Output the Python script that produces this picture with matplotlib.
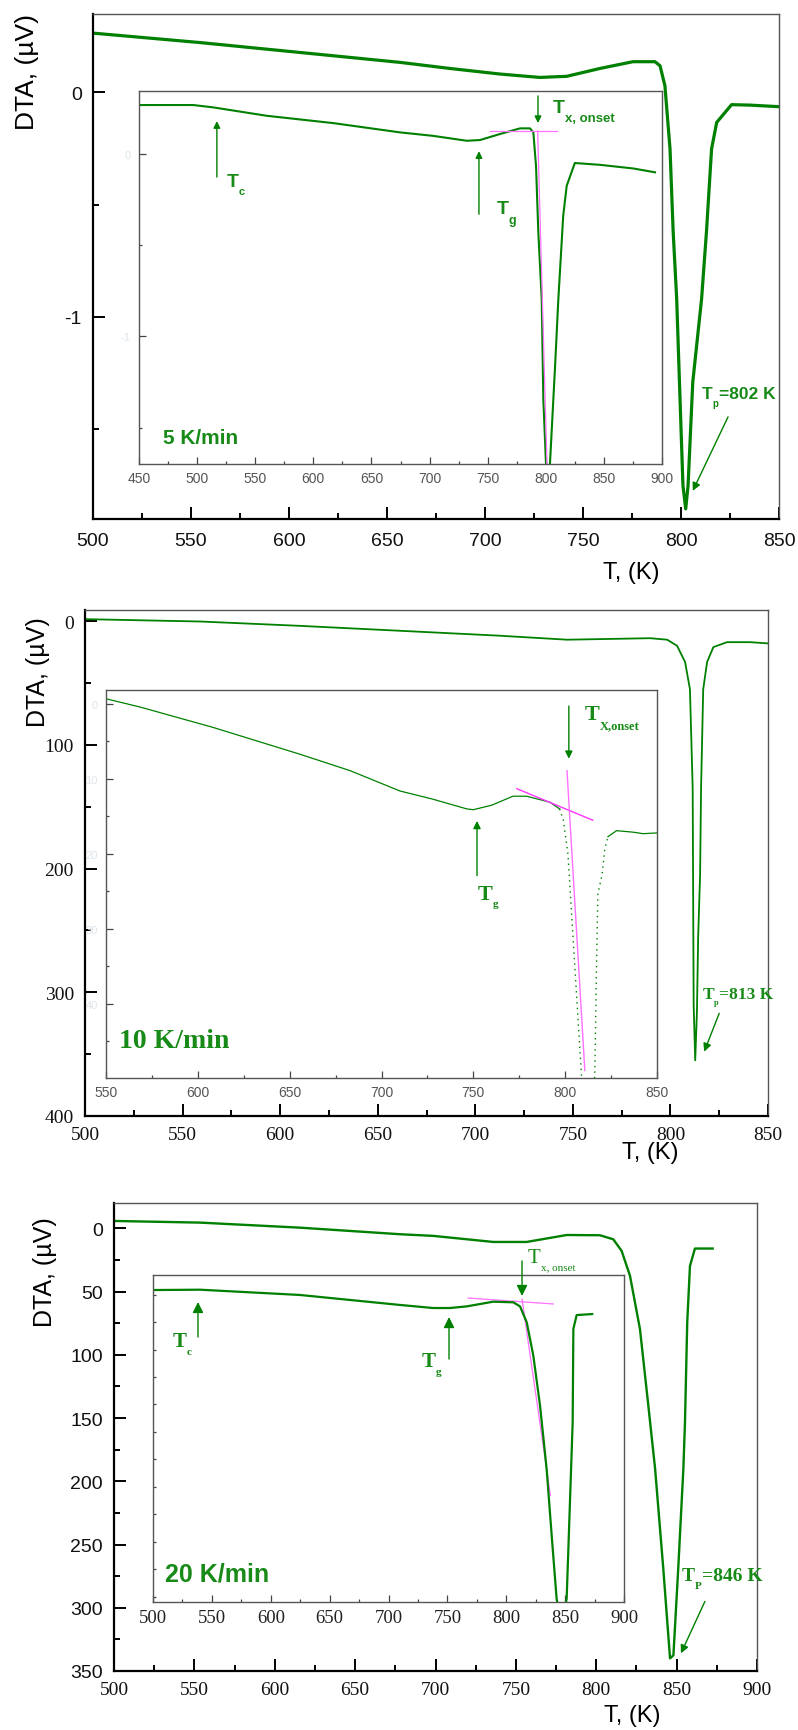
import numpy as np
import matplotlib.pyplot as plt
from matplotlib.ticker import MultipleLocator

plt.rcParams['axes.unicode_minus'] = False

W, H = 798, 1731
GREEN = '#008000'
TXT = '#178a17'
PINK = '#ff70ff'
SANS = 'Liberation Sans'
SERIF = 'Liberation Serif'

# ---- 5 K/min ----
t1 = [500, 554.6, 605.6, 656.6, 682, 707.7, 728, 741.7, 758.7, 775.5, 786.7, 789.3, 791.8, 794.4,
      796, 797.8, 799.5, 801, 802.4, 803.6, 806, 810.5, 813, 815.6, 818.2, 825.8, 835, 850]
d1 = [0.262, 0.22, 0.176, 0.132, 0.105, 0.08, 0.065, 0.07, 0.105, 0.135, 0.135, 0.117, 0.028, -0.253,
      -0.62, -0.92, -1.364, -1.75, -1.853, -1.75, -1.29, -0.92, -0.62, -0.253, -0.135, -0.056, -0.058, -0.065]
ti1 = [448.5, 496.7, 514, 560, 617, 674.6, 703, 732, 743.4, 760.6, 777.8, 786.4, 789.3, 791.6, 793.6,
       796.5, 797.9, 800.2, 801.8, 803.6, 808, 810.8, 815, 818, 825, 846.7, 875.3, 894]
di1 = [0.269, 0.269, 0.256, 0.21, 0.17, 0.119, 0.1, 0.073, 0.077, 0.11, 0.141, 0.141, 0.119, -0.064, -0.43,
       -0.797, -1.346, -1.70, -1.85, -1.70, -1.163, -0.797, -0.339, -0.174, -0.049, -0.059, -0.079, -0.1]
tan1_base = ([752, 810], [0.126, 0.126])
tan1_steep = ([793, 801], [0.126, -1.70])

# ---- 10 K/min ----
t2 = [500, 559, 610, 661.5, 712.7, 747, 789.6, 798.3, 803.4, 807.5, 810, 811.4, 811.9, 812.7,
      813.6, 814.2, 815.2, 815.7, 816.8, 818.8, 822, 829, 840.8, 850]
d2 = [-1.6, 0.3, 3.8, 7.8, 11.8, 15, 13.8, 15, 19.9, 33, 55, 135, 310, 355,
      315, 256, 205, 135, 55, 33, 21, 17, 17, 18]
ti2 = [550, 568.5, 608, 655.6, 683, 710, 728, 746.5, 750, 760, 771.6, 779, 791.7, 797]
di2 = [-0.7, 0.4, 3.1, 6.7, 8.9, 11.6, 12.7, 14, 14.1, 13.5, 12.3, 12.3, 13.1, 14]
ts2 = [797, 799, 801.5, 803, 805, 807, 809, 811, 813, 815, 816.2, 817, 817.8, 820, 821.6, 823.3]
ds2 = [14, 15.5, 20, 26, 34, 42, 50, 58, 60, 56, 48.4, 36, 25.3, 22.9, 19.3, 17.7]
tp2 = [823.3, 828, 837, 842.5, 850]
dp2 = [17.7, 16.9, 17.1, 17.3, 17.2]
tan2_base = ([773.7, 815], [11.3, 15.5])
tan2_steep = ([801, 810.7], [8.9, 48.9])

# ---- 20 K/min ----
t3 = [500, 553.5, 615.7, 678, 698.6, 736, 756.7, 781.6, 802.3, 810.6, 815.8, 821, 827.2, 832.4,
      836.6, 841.7, 845.9, 848, 851, 854.2, 855.2, 856.6, 858.3, 861.4, 872.4]
d3 = [-5.8, -4.5, -0.5, 4.7, 6, 10.8, 10.8, 5.3, 5.5, 8.7, 17.9, 37.6, 79.7, 140.2,
      190, 269, 340, 337.6, 269, 190, 153, 74.4, 29.7, 16, 16]
ti3 = [500, 540, 624.8, 709.8, 738, 752.2, 766.4, 789, 806, 811.7, 817.4, 823, 828.7, 834.3,
       838.6, 842.8, 847, 851.3, 854.1, 856.4, 857, 859.8, 873]
di3 = [-4.3, -4.6, 0.2, 9.3, 12.1, 12.1, 10.6, 6.3, 6.9, 10.6, 25.1, 55.6, 101.1, 158.8,
       219.6, 277.3, 300, 277, 189.2, 116.3, 31.2, 18.5, 17.6]
tan3_base = ([767.6, 840], [3, 8.4])
tan3_steep = ([813.4, 837.5], [4, 183])

fig = plt.figure(figsize=(W / 100, H / 100), dpi=100)


def px_box(l, t, r, b):
    return [l / W, 1 - b / H, (r - l) / W, (b - t) / H]


def main_axes(rect, xlim, ylim, xstep, ystep, xfam, yfam, xpad=7):
    ax = fig.add_axes(px_box(*rect))
    ax.set_xlim(*xlim)
    ax.set_ylim(*ylim)
    ax.xaxis.set_major_locator(MultipleLocator(xstep))
    ax.xaxis.set_minor_locator(MultipleLocator(xstep / 2))
    ax.yaxis.set_major_locator(MultipleLocator(ystep))
    ax.yaxis.set_minor_locator(MultipleLocator(ystep / 2))
    for s in ['left', 'bottom']:
        ax.spines[s].set_linewidth(1.6)
        ax.spines[s].set_color('black')
    for s in ['top', 'right']:
        ax.spines[s].set_linewidth(1.0)
        ax.spines[s].set_color('#555555')
    ax.tick_params(which='both', direction='in', top=False, right=False, width=1.4, color='black')
    ax.tick_params(which='major', length=8.5)
    ax.tick_params(which='minor', length=4.3)
    ax.tick_params(axis='x', labelsize=14, labelfontfamily=xfam, pad=xpad, labelcolor='#111111')
    ax.tick_params(axis='y', labelsize=14, labelfontfamily=yfam, pad=8, labelcolor='#111111')
    return ax


def inset_axes(rect, xlim, ylim, xstep, ystep, yminor, fam, size, xcolor, ycolor, ylabels=True):
    ax = fig.add_axes(px_box(*rect))
    ax.set_facecolor('white')
    ax.set_xlim(*xlim)
    ax.set_ylim(*ylim)
    ax.xaxis.set_major_locator(MultipleLocator(xstep))
    ax.xaxis.set_minor_locator(MultipleLocator(xstep / 2))
    ax.yaxis.set_major_locator(MultipleLocator(ystep))
    ax.yaxis.set_minor_locator(MultipleLocator(yminor))
    for s in ax.spines.values():
        s.set_linewidth(1.0)
        s.set_color('#555555')
    ax.tick_params(which='both', direction='in', top=False, right=False, width=0.9, color='#444444')
    ax.tick_params(which='major', length=5)
    ax.tick_params(which='minor', length=2.5)
    ax.tick_params(axis='x', labelsize=size, labelfontfamily=fam, pad=5, labelcolor=xcolor)
    ax.tick_params(axis='y', labelsize=8, labelfontfamily=SANS, pad=6, labelcolor=ycolor,
                   labelleft=ylabels)
    return ax


def arrow(ax, start, end, lw=1.0, ms=12):
    ax.annotate('', xy=end, xytext=start, annotation_clip=False,
                arrowprops=dict(arrowstyle='-|>', color=GREEN, lw=lw, mutation_scale=ms,
                                shrinkA=0, shrinkB=0))


def sublabel(ax, x, y, main, sub, rest='', size=14, subsize=8, fam=SANS, weight='bold'):
    kw = dict(color=TXT, family=fam, weight=weight, annotation_clip=False)
    t = ax.annotate(main, (x, y), ha='left', va='center', fontsize=size, **kw)
    s = ax.annotate(sub, xy=(1.0, 0.22), xycoords=t, ha='left', va='top', fontsize=subsize, **kw)
    if rest:
        ax.annotate(rest, xy=(1.0, 0.0), xycoords=(s, t), ha='left', va='bottom', fontsize=size, **kw)


# ================= panel 1 : 5 K/min =================
ax1 = main_axes((93, 15, 779, 520), (500, 850), (-1.898, 0.347), 50, 1, SANS, SANS, xpad=9)
ax1.plot(t1, d1, color=GREEN, lw=2.3)
arrow(ax1, (824, -1.444), (806, -1.773))
sublabel(ax1, 810.7, -1.342, 'T', 'p', '=802 K', size=12.5, subsize=7)

in1 = inset_axes((139, 92, 662, 465), (450, 900), (-1.70, 0.346), 50, 1, 0.5,
                 SANS, 10, '#555555', '#dde6ec')
in1.plot(ti1, di1, color=GREEN, lw=1.5)
in1.plot(*tan1_base, color=PINK, lw=0.9)
in1.plot(*tan1_steep, color=PINK, lw=0.9)
arrow(in1, (517, -0.126), (517, 0.181), ms=10)
sublabel(in1, 525.7, -0.148, 'T', 'c', size=14, subsize=8)
arrow(in1, (742.5, -0.33), (742.5, 0.016), ms=10)
sublabel(in1, 758, -0.30, 'T', 'g', size=14, subsize=9)
arrow(in1, (793.3, 0.319), (793.3, 0.17), ms=10)
sublabel(in1, 806, 0.258, 'T', 'x, onset', size=14, subsize=9.5)
in1.text(470.7, -1.555, '5 K/min', color=TXT, fontsize=15, family=SANS, weight='bold', va='center')

fig.text(27 / W, 1 - 72 / H, 'DTA, (\u00b5V)', rotation=90, ha='center', va='center',
         fontsize=19, family=SANS)
fig.text(631 / W, 1 - 573 / H, 'T, (K)', ha='center', va='center', fontsize=17, family=SANS)

# ================= panel 2 : 10 K/min =================
ax2 = main_axes((85, 611, 768, 1117), (500, 850), (400, -9), 50, 100, SERIF, SERIF)
ax2.plot(t2, d2, color=GREEN, lw=1.3)
arrow(ax2, (825, 317), (817.3, 348))
sublabel(ax2, 816.4, 301, 'T', 'p', '=813 K', size=12.5, subsize=6, fam=SERIF)

in2 = inset_axes((106, 691, 657, 1079), (550, 850), (49.9, -1.87), 50, 10, 5,
                 SANS, 10, '#555555', '#dde6ec')
in2.plot(ti2, di2, color=GREEN, lw=0.9)
in2.plot(ts2, ds2, color=GREEN, lw=1.0, ls=(0, (1, 3)))
in2.plot(tp2, dp2, color=GREEN, lw=0.9)
in2.plot(*tan2_base, color='#ff33ff', lw=1.0)
in2.plot(*tan2_steep, color=PINK, lw=1.0)
arrow(in2, (802, 0.27), (802, 7.3), ms=11)
sublabel(in2, 810.8, 1.3, 'T', 'X,onset', size=16, subsize=9, fam=SERIF)
arrow(in2, (752, 22.9), (752, 15.6), ms=11)
sublabel(in2, 752.5, 25.3, 'T', 'g', size=16, subsize=8, fam=SERIF)
in2.text(557, 44.9, '10 K/min', color=TXT, fontsize=20, family=SERIF, weight='bold', va='center')

fig.text(37.5 / W, 1 - 672 / H, 'DTA, (\u00b5V)', rotation=90, ha='center', va='center',
         fontsize=18, family=SANS)
fig.text(650 / W, 1 - 1153 / H, 'T, (K)', ha='center', va='center', fontsize=17, family=SANS)

# ================= panel 3 : 20 K/min =================
ax3 = main_axes((114, 1204, 757, 1672), (500, 900), (350, -20), 50, 50, SERIF, SANS)
ax3.plot(t3, d3, color=GREEN, lw=1.7)
arrow(ax3, (867.6, 295), (852.7, 336))
sublabel(ax3, 853.3, 274.7, 'T', 'P', '=846 K', size=14, subsize=8, fam=SERIF)

in3 = inset_axes((153, 1276, 624, 1603), (500, 900), (280, -18), 50, 25, 25,
                 SERIF, 13.5, '#222222', 'white', ylabels=False)
in3.tick_params(axis='y', which='both', length=2.5)
in3.plot(*tan3_base, color=PINK, lw=0.9)
in3.plot(*tan3_steep, color=PINK, lw=0.9)
in3.plot(ti3, di3, color=GREEN, lw=1.6)
arrow(in3, (813.4, -30.8), (813.4, 1.1), ms=16)
sublabel(in3, 818.5, -34.4, 'T', 'x, onset', size=15, subsize=8, fam=SERIF, weight='normal')
arrow(in3, (751.4, 58.6), (751.4, 20.3), ms=16)
sublabel(in3, 728.5, 60.4, 'T', 'g', size=15, subsize=8, fam=SERIF)
arrow(in3, (538.2, 38.5), (538.2, 6.6), ms=16)
sublabel(in3, 517, 42.2, 'T', 'c', size=15, subsize=8, fam=SERIF)
in3.text(510, 253.6, '20 K/min', color=TXT, fontsize=18, family=SANS, weight='bold', va='center')

fig.text(45 / W, 1 - 1272 / H, 'DTA, (\u00b5V)', rotation=90, ha='center', va='center',
         fontsize=18, family=SANS)
fig.text(632 / W, 1 - 1716 / H, 'T, (K)', ha='center', va='center', fontsize=17, family=SANS)

fig.savefig('out.png', dpi=100)
